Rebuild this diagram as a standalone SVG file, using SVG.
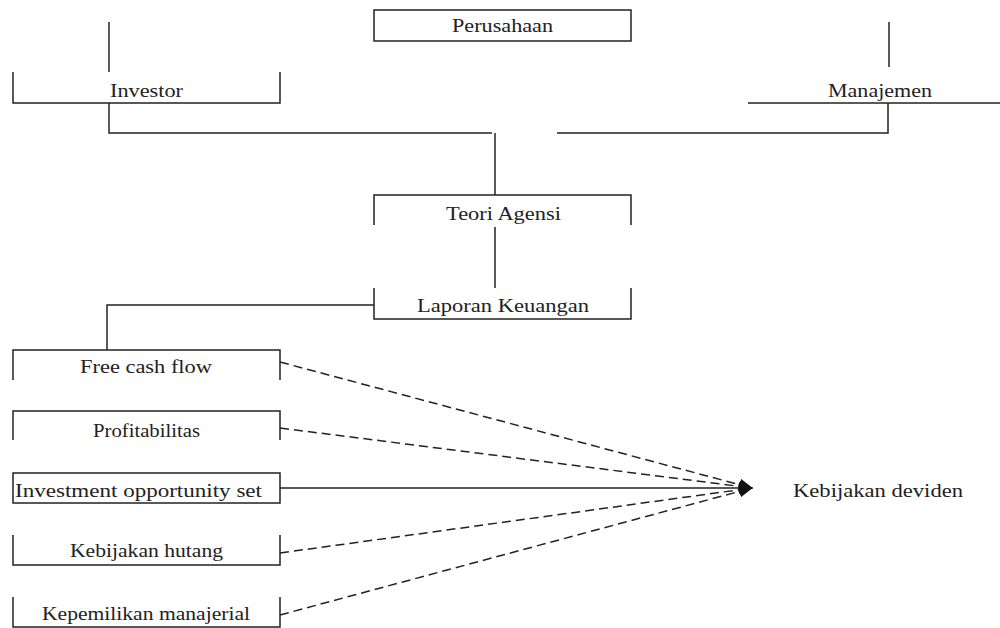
<svg xmlns="http://www.w3.org/2000/svg" width="1000" height="628" viewBox="0 0 1000 628">
<style>
.ln{fill:none;stroke:#222;stroke-width:1.5}
.ds{fill:none;stroke:#222;stroke-width:1.5;stroke-dasharray:9 5}
.t{font-family:"Liberation Serif","Times New Roman",serif;font-size:18px;fill:#222}
</style>
<defs>
<marker id="ah" viewBox="0 0 14 12" refX="13" refY="6" markerWidth="14" markerHeight="12" markerUnits="userSpaceOnUse" orient="auto">
<path d="M0,0 L14,6 L0,12 Z" fill="#111"/>
</marker>
</defs>
<rect width="1000" height="628" fill="#fff"/>
<g id="perusahaan">
<rect class="ln" x="374" y="10" width="257" height="31"/>
<text class="t" x="452" y="32" textLength="101" lengthAdjust="spacingAndGlyphs">Perusahaan</text>
</g>
<g id="investor">
<path class="ln" d="M13,72 V103 H280 V72"/>
<text class="t" x="110" y="97" textLength="73" lengthAdjust="spacingAndGlyphs">Investor</text>
</g>
<g id="manajemen">
<path class="ln" d="M748,103 H1000"/>
<text class="t" x="828" y="97" textLength="104" lengthAdjust="spacingAndGlyphs">Manajemen</text>
</g>
<g id="teori-agensi">
<path class="ln" d="M374,225 V195 H631 V225"/>
<text class="t" x="446" y="220" textLength="115" lengthAdjust="spacingAndGlyphs">Teori Agensi</text>
</g>
<g id="laporan-keuangan">
<path class="ln" d="M374,288 V319 H631 V288"/>
<text class="t" x="417" y="312" textLength="172" lengthAdjust="spacingAndGlyphs">Laporan Keuangan</text>
</g>
<g id="free-cash-flow">
<path class="ln" d="M13,380 V350 H280 V380"/>
<text class="t" x="80" y="373" textLength="132" lengthAdjust="spacingAndGlyphs">Free cash flow</text>
</g>
<g id="profitabilitas">
<path class="ln" d="M13,440 V411 H280 V440"/>
<text class="t" x="93" y="437" textLength="107" lengthAdjust="spacingAndGlyphs">Profitabilitas</text>
</g>
<g id="investment-opportunity-set">
<rect class="ln" x="13" y="473" width="267" height="30"/>
<text class="t" x="15" y="497" textLength="247" lengthAdjust="spacingAndGlyphs">Investment opportunity set</text>
</g>
<g id="kebijakan-hutang">
<path class="ln" d="M13,535 V565 H280 V535"/>
<text class="t" x="70" y="557" textLength="153" lengthAdjust="spacingAndGlyphs">Kebijakan hutang</text>
</g>
<g id="kepemilikan-manajerial">
<path class="ln" d="M13,597 V627 H280 V597"/>
<text class="t" x="42" y="620" textLength="208" lengthAdjust="spacingAndGlyphs">Kepemilikan manajerial</text>
</g>
<g id="kebijakan-deviden">
<text class="t" x="793" y="497" textLength="170" lengthAdjust="spacingAndGlyphs">Kebijakan deviden</text>
</g>
<g id="connectors">
<path class="ln" d="M109,22 V72"/>
<path class="ln" d="M889,22 V67"/>
<path class="ln" d="M109,103 V133 H492"/>
<path class="ln" d="M888,103 V133 H557"/>
<path class="ln" d="M495,133 V195"/>
<path class="ln" d="M495,227 V288"/>
<path class="ln" d="M374,305 H107 V350"/>
<path class="ds" d="M280,362 L752,488" marker-end="url(#ah)"/>
<path class="ds" d="M280,428 L752,488" marker-end="url(#ah)"/>
<path class="ln" d="M280,488 L752,488" marker-end="url(#ah)"/>
<path class="ds" d="M280,553 L752,488" marker-end="url(#ah)"/>
<path class="ds" d="M280,615 L752,488" marker-end="url(#ah)"/>
</g>
</svg>
